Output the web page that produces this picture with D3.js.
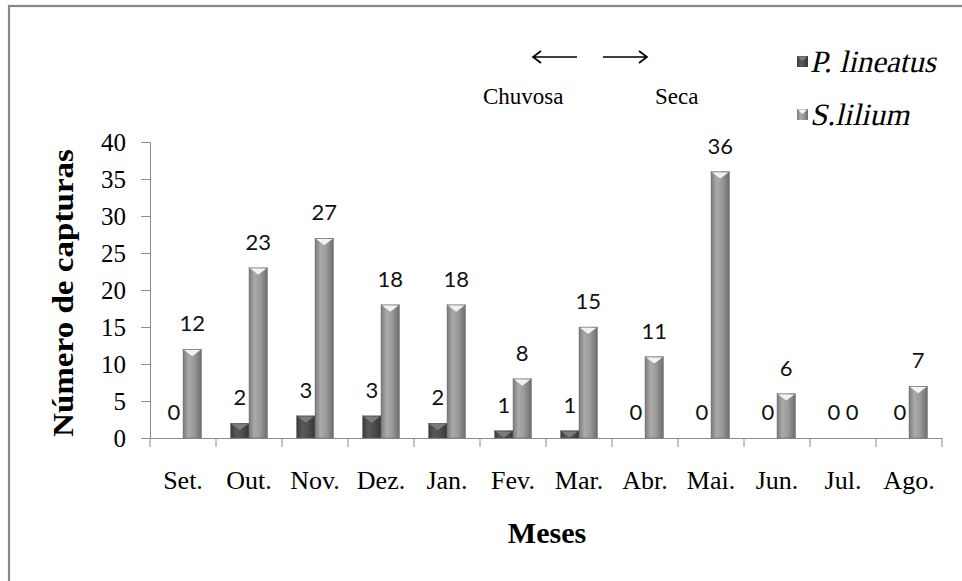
<!DOCTYPE html>
<html><head><meta charset="utf-8">
<script src="https://cdn.jsdelivr.net/npm/d3@7"></script>
<style>body{margin:0;background:#fff}svg{display:block;font-family:"Liberation Serif","Times New Roman",serif}</style>
</head><body>
<svg id="chart" width="962" height="581"></svg>
<script>
const months = ["Set.","Out.","Nov.","Dez.","Jan.","Fev.","Mar.","Abr.","Mai.","Jun.","Jul.","Ago."];
const pLineatus = [0,2,3,3,2,1,1,0,0,0,0,0];
const sLilium = [12,23,27,18,18,8,15,11,36,6,0,7];
const yTicks = [0,5,10,15,20,25,30,35,40];
const seriesNames = ["P. lineatus","S.lilium"];

const svg = d3.select("#chart");
const serif = '"Liberation Serif","Times New Roman",serif';
const sans = 'Lato,"Open Sans",sans-serif';

// frame
svg.append("rect").attr("x",9).attr("y",6).attr("width",1000).attr("height",620)
  .attr("fill","#fff").attr("stroke","#888").attr("stroke-width",2.2);

const defs = svg.append("defs");
function grad(id, stops){
  const g = defs.append("linearGradient").attr("id",id).attr("x1","0").attr("x2","1").attr("y1","0").attr("y2","0");
  stops.forEach(s=>g.append("stop").attr("offset",s[0]).attr("stop-color",s[1]));
}
grad("gS",[["0","#7a7a7a"],["0.3","#aaaaaa"],["0.6","#9a9a9a"],["1","#6c6c6c"]]);
grad("gP",[["0","#3a3a3a"],["0.3","#595959"],["0.6","#4f4f4f"],["1","#353535"]]);

const x = d3.scaleBand().domain(months).range([150,942]).padding(0);
const y = d3.scaleLinear().domain([0,40]).range([438,142]);
const barW = x.bandwidth()*0.28;

// y axis
const yAxis = svg.append("g").attr("transform","translate(150,0)")
  .call(d3.axisLeft(y).tickValues(yTicks).tickSize(9).tickPadding(15).tickFormat(d3.format("d")));
yAxis.attr("font-family",null).attr("font-size",null);
yAxis.select(".domain").attr("stroke","#8c8c8c");
yAxis.selectAll(".tick line").attr("stroke","#8c8c8c");
yAxis.selectAll("text").style("font-family",serif).style("font-size","25px").attr("fill","#000");

// x axis
const xAxis = svg.append("g").attr("transform","translate(0,438)")
  .call(d3.axisBottom(x).tickSize(0).tickPadding(0).tickFormat(""));
xAxis.select(".domain").attr("stroke","#8c8c8c");
xAxis.selectAll(".tick").remove();
const bounds = months.map(m=>x(m)).concat([x(months[months.length-1])+x.bandwidth()]);
svg.append("g").selectAll("line").data(bounds).join("line")
  .attr("x1",d=>d).attr("x2",d=>d).attr("y1",438).attr("y2",447).attr("stroke","#8c8c8c");
svg.append("g").selectAll("text").data(months).join("text")
  .attr("x",d=>x(d)+x.bandwidth()/2).attr("y",489).attr("text-anchor","middle")
  .style("font-family",serif).style("font-size","26px").text(d=>d);

function drawBars(vals, offset, fillId, capColor){
  const g = svg.append("g");
  vals.forEach((v,i)=>{
    const x0 = x(months[i]) + x.bandwidth()/2 + offset;
    const top = y(v), h = y(0)-y(v);
    if(h>0){
      g.append("rect").attr("x",x0).attr("y",top).attr("width",barW).attr("height",h)
        .attr("fill",`url(#${fillId})`).attr("stroke","#666").attr("stroke-width",0.4);
      const ch = Math.min(7,h);
      g.append("path").attr("d",`M${x0+1},${top+0.8}L${x0+barW-1},${top+0.8}L${x0+barW/2},${top+ch}Z`)
        .attr("fill",capColor);
    }
    g.append("text").attr("x",x0+barW/2).attr("y",top-18).attr("text-anchor","middle")
      .style("font-family",sans).style("font-size","22px").attr("fill","#111").text(v);
  });
}
drawBars(pLineatus, -barW, "gP", "#7c7c7c");
drawBars(sLilium, 0, "gS", "#f2f2f2");

// axis titles
svg.append("text").attr("transform","translate(73,293) rotate(-90)").attr("text-anchor","middle")
  .style("font-family",serif).style("font-weight","bold").style("font-size","30px")
  .attr("textLength",288).attr("lengthAdjust","spacingAndGlyphs").text("Número de capturas");
svg.append("text").attr("x",547).attr("y",543).attr("text-anchor","middle")
  .style("font-family",serif).style("font-weight","bold").style("font-size","30px").text("Meses");

// season arrows
const arr = svg.append("g").attr("stroke","#000").attr("stroke-width",1.7).attr("fill","none");
arr.append("path").attr("d","M533,57H577M541,51L533,57L541,63");
arr.append("path").attr("d","M603,57H647M639,51L647,57L639,63");
svg.append("text").attr("x",483).attr("y",104).style("font-family",serif).style("font-size","23px").text("Chuvosa");
svg.append("text").attr("x",655).attr("y",104).style("font-family",serif).style("font-size","23px").text("Seca");

// legend (Times italic not installed: slanted Liberation Serif instead)
const leg = svg.append("g");
const legY = [72,125];
const legFill = ["gP","gS"], legCap = ["#7c7c7c","#f2f2f2"];
seriesNames.forEach((n,i)=>{
  leg.append("rect").attr("x",797).attr("y",legY[i]-16).attr("width",11).attr("height",11)
    .attr("fill",`url(#${legFill[i]})`);
  leg.append("path").attr("d",`M797.5,${legY[i]-15.5}L807.5,${legY[i]-15.5}L802.5,${legY[i]-11}Z`).attr("fill",legCap[i]);
  leg.append("text").attr("transform",`translate(810,${legY[i]}) skewX(-13)`)
    .style("font-family",serif).style("font-size","31px").text(n);
});
</script>
</body></html>
